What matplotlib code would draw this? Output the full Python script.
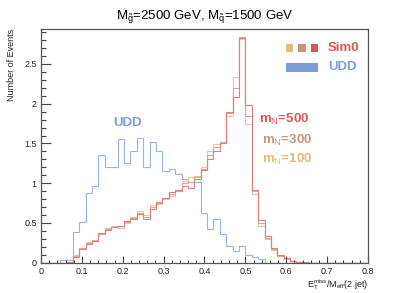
import matplotlib
matplotlib.use("Agg")
import matplotlib.pyplot as plt
from matplotlib.patches import Rectangle
from matplotlib.ticker import MultipleLocator
import numpy as np

plt.rcParams["font.family"] = ["Liberation Sans", "DejaVu Sans"]
plt.rcParams["mathtext.fontset"] = "custom"
plt.rcParams["mathtext.rm"] = "Liberation Sans"
plt.rcParams["mathtext.it"] = "Liberation Sans:italic"

# 52 bins of width 1/64 starting at 0 (the last one is cut at 0.8)
bin_width = 1 / 64
udd = [0, 0, 0, 0.03, 0.03, 0.39, 0.51, 0.88, 0.97, 1.35, 1.20, 1.20, 1.55,
       1.25, 1.41, 1.57, 1.21, 1.52, 1.41, 1.15, 1.18, 1.12, 1.05, 1.02, 1.02,
       0.63, 0.42, 0.55, 0.36, 0.21, 0.15, 0.21, 0.10, 0.07, 0.05, 0, 0, 0,
       0, 0, 0, 0, 0, 0, 0, 0, 0, 0, 0, 0, 0, 0]
mn500 = [0, 0, 0, 0, 0.01, 0.07, 0.17, 0.24, 0.27, 0.37, 0.41, 0.45, 0.46,
         0.52, 0.55, 0.61, 0.55, 0.67, 0.76, 0.82, 0.89, 0.92, 0.96, 0.94,
         1.05, 1.16, 1.30, 1.40, 1.51, 1.89, 2.08, 2.83, 1.99, 0.92, 0.54,
         0.33, 0.19, 0.10, 0.06, 0.02, 0.01, 0.01, 0, 0, 0, 0, 0, 0, 0, 0, 0, 0]
mn300 = [0, 0, 0, 0, 0.01, 0.09, 0.18, 0.25, 0.28, 0.36, 0.42, 0.45, 0.46,
         0.51, 0.56, 0.63, 0.58, 0.70, 0.75, 0.81, 0.86, 0.90, 1.00, 1.02,
         1.08, 1.18, 1.35, 1.45, 1.52, 1.88, 2.20, 2.84, 1.85, 0.90, 0.50,
         0.31, 0.17, 0.09, 0.06, 0.02, 0.01, 0, 0, 0, 0, 0, 0, 0, 0, 0, 0, 0]
mn100 = [0, 0, 0, 0, 0.01, 0.10, 0.19, 0.26, 0.27, 0.36, 0.44, 0.46, 0.44,
         0.50, 0.57, 0.65, 0.60, 0.73, 0.74, 0.80, 0.84, 0.90, 1.03, 1.08,
         1.09, 1.20, 1.41, 1.49, 1.50, 1.85, 2.33, 2.82, 1.75, 0.87, 0.46,
         0.30, 0.16, 0.10, 0.05, 0.02, 0.01, 0, 0, 0, 0, 0, 0, 0, 0, 0, 0, 0]

c_blue = "#7b9ed9"
c_red = "#d95757"
c_tan = "#c99678"
c_orange = "#e2b87e"

edges = np.arange(len(udd) + 1) * bin_width

fig = plt.figure(figsize=(4.09, 2.93), dpi=100)
ax = fig.add_axes([0.1002, 0.1034, 0.7996, 0.7976])

ax.stairs(udd, edges, color="#9ab4e6", lw=0.8)
ax.stairs(mn100, edges, color="#ebc89a", lw=0.8)
ax.stairs(mn300, edges, color="#d4aa90", lw=0.8)
ax.stairs(mn500, edges, color="#df8080", lw=0.8)

ax.set_xlim(0, 0.8)
ax.set_ylim(0, 2.94)
ax.xaxis.set_major_locator(MultipleLocator(0.1))
ax.xaxis.set_minor_locator(MultipleLocator(0.02))
ax.yaxis.set_major_locator(MultipleLocator(0.5))
ax.yaxis.set_minor_locator(MultipleLocator(0.1))
ax.set_xticks([0, 0.1, 0.2, 0.3, 0.4, 0.5, 0.6, 0.7, 0.8],
              ["0", "0.1", "0.2", "0.3", "0.4", "0.5", "0.6", "0.7", "0.8"])
ax.set_yticks([0, 0.5, 1, 1.5, 2, 2.5], ["0", "0.5", "1", "1.5", "2", "2.5"])

ax.tick_params(axis="both", which="both", direction="in", color="#444444",
               labelsize=6.5, width=0.8, labelcolor="#222222")
ax.tick_params(axis="x", which="major", length=5, pad=3)
ax.tick_params(axis="x", which="minor", length=2.5)
ax.tick_params(axis="y", which="major", length=7, pad=3)
ax.tick_params(axis="y", which="minor", length=3.5)
for s in ax.spines.values():
    s.set_color("#555555")
    s.set_linewidth(0.9)

ax.set_xlabel(r"E$_{\mathrm{T}}^{\mathrm{miss}}$/M$_{\mathrm{eff}}$(2 jet)",
              fontsize=6.5, loc="right", labelpad=1, color="#222222")
ax.set_ylabel("Number of Events", fontsize=6.5, loc="top", labelpad=6,
              color="#222222")

fig.text(0.5, 0.935,
         r"M$_{\tilde{\mathrm{g}}}$=2500 GeV, M$_{\tilde{\mathrm{q}}}$=1500 GeV",
         ha="center", va="baseline", fontsize=9.5)

# legend drawn by hand, ROOT style
for x0, col in zip([0.749, 0.786, 0.825], [c_orange, c_tan, c_red]):
    ax.add_patch(Rectangle((x0, 0.903), 0.023, 0.033, transform=ax.transAxes,
                           color=col, lw=0))
ax.add_patch(Rectangle((0.749, 0.817), 0.099, 0.036, transform=ax.transAxes,
                       color=c_blue, lw=0))
ax.text(0.876, 0.92, "Sim0", transform=ax.transAxes, color=c_red,
        fontsize=9.5, fontweight="bold", va="center")
ax.text(0.879, 0.836, "UDD", transform=ax.transAxes, color=c_blue,
        fontsize=9.5, fontweight="bold", va="center")

ax.text(0.221, 0.598, "UDD", transform=ax.transAxes, color=c_blue,
        fontsize=9.5, fontweight="bold", va="center")
ax.text(0.668, 0.611, r"m$_{\mathrm{N}}$=500", transform=ax.transAxes,
        color=c_red, fontsize=9.5, fontweight="bold", va="center")
ax.text(0.675, 0.522, r"m$_{\mathrm{N}}$=300", transform=ax.transAxes,
        color=c_tan, fontsize=9.5, fontweight="bold", va="center")
ax.text(0.675, 0.44, r"m$_{\mathrm{N}}$=100", transform=ax.transAxes,
        color=c_orange, fontsize=9.5, fontweight="bold", va="center")

fig.savefig("out.png", dpi=100)
